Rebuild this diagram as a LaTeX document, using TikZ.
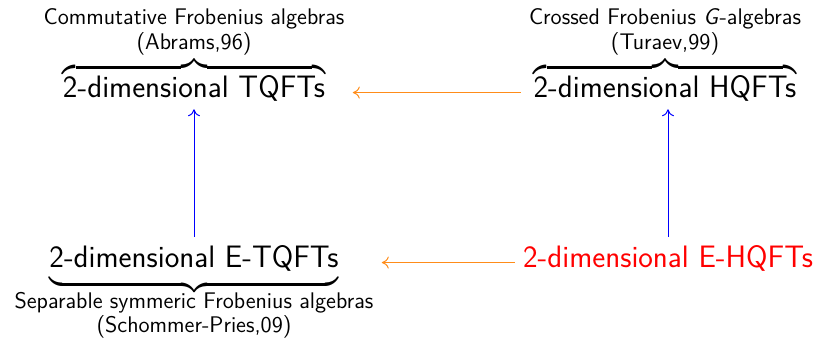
\documentclass[tikz,border=0pt]{standalone}
\usepackage{amsmath}
\usetikzlibrary{arrows.meta}
\renewcommand{\familydefault}{\sfdefault}

\newcommand{\qftlabel}[1]{\hbox{\fontsize{11.3}{12}\selectfont\begin{tabular}{@{}c@{}}#1\end{tabular}}}

\begin{document}
\begin{tikzpicture}[x=0.5pt,y=-0.5pt,
    qft/.style={anchor=base, inner sep=4pt, font=\fontsize{15.5}{18}\selectfont},
    horiz/.style={-{To[length=3.5pt,width=6pt]}, draw=orange!90, line width=0.5pt},
    vert/.style={-{To[length=3.5pt,width=6pt]}, draw=blue, line width=0.5pt}]
    \useasboundingbox (0,0) rectangle (818,337);
    \node[qft] (tqft) at (194,97)
      {$\overbrace{\text{2-dimensional TQFTs}}^{\qftlabel{Commutative Frobenius algebras\\(Abrams,96)}}$};
    \node[qft] (hqft) at (665,97)
      {$\overbrace{\text{2-dimensional HQFTs}}^{\qftlabel{Crossed Frobenius \textsl{G}-algebras\\(Turaev,99)}}$};
    \node[qft] (etqft) at (194,267)
      {$\underbrace{\text{2-dimensional E-TQFTs}\rule[-5pt]{0pt}{0pt}}_{\raisebox{0pt}[\dimexpr\height-3pt]{\qftlabel{Separable symmeric Frobenius algebras\\(Schommer-Pries,09)}}}$};
    \node[qft, text=red] (ehqft) at (668,267) {2-dimensional E-HQFTs};
    \draw[horiz] (hqft.mid west) -- (tqft.mid east);
    \draw[horiz] (ehqft.mid west) -- (etqft.mid east);
    \draw[vert] (etqft.north) -- (tqft.south);
    \draw[vert] (ehqft.north) -- (ehqft.north |- hqft.south);
\end{tikzpicture}
\end{document}
